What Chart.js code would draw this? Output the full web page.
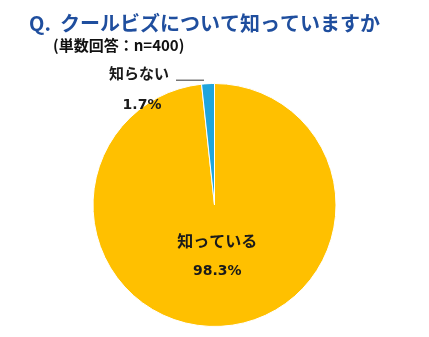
<!DOCTYPE html>
<html lang="ja">
<head>
<meta charset="UTF-8">
<title>クールビズ認知度</title>
<script src="https://cdn.jsdelivr.net/npm/chart.js"></script>
<style>
    body {
        margin: 0;
        background: #ffffff;
    }
    #wrap {
        width: 429px;
        height: 337px;
    }
</style>
</head>
<body>
<div id="wrap">
<canvas id="pieChart" width="429" height="337"></canvas>
</div>
<script>
    const answerLabels = ['知っている', '知らない'];
    const answerShares = [98.3, 1.7];
    const sliceColors = ['#ffc000', '#1fa5dd'];

    const titleText = 'Q.  クールビズについて知っていますか';
    const subTitleText = '(単数回答：n=400)';

    const jpFont = '"Noto Sans CJK JP", "Noto Sans", sans-serif';
    const numFont = '"DejaVu Sans", sans-serif';

    // 見出しとスライスのラベルを描く
    const labelPlugin = {
        id: 'pieLabels',
        afterDraw(chart) {
            const ctx = chart.ctx;
            ctx.save();

            ctx.textBaseline = 'alphabetic';
            ctx.textAlign = 'left';
            ctx.fillStyle = '#1f4e9e';
            ctx.font = 'bold 20px ' + jpFont;
            ctx.fillText(titleText, 29, 31);

            ctx.fillStyle = '#111111';
            ctx.font = 'bold 15px ' + jpFont;
            ctx.fillText(subTitleText, 53, 51);

            const arcs = chart.getDatasetMeta(0).data;
            ctx.textBaseline = 'middle';
            ctx.textAlign = 'center';
            ctx.fillStyle = '#1a1a1a';

            // 大きいスライス：内側に名前と値
            const big = arcs[0];
            const midA = (big.startAngle + big.endAngle) / 2;
            const r0 = big.outerRadius * 0.42;
            const bx = big.x + Math.cos(midA) * r0;
            const by = big.y + Math.sin(midA) * r0;
            ctx.font = 'bold 16px ' + jpFont;
            ctx.fillText(answerLabels[0], bx, by - 15);
            ctx.font = 'bold 14px ' + numFont;
            ctx.fillText(answerShares[0].toFixed(1) + '%', bx, by + 15);

            // 小さいスライス：外側に引き出し線
            const small = arcs[1];
            const midB = (small.startAngle + small.endAngle) / 2;
            const ox = small.x + Math.cos(midB) * small.outerRadius;
            const oy = small.y + Math.sin(midB) * small.outerRadius;
            ctx.strokeStyle = '#333333';
            ctx.lineWidth = 1;
            ctx.beginPath();
            ctx.moveTo(ox - 4, oy - 3.5);
            ctx.lineTo(ox - 32, oy - 3.5);
            ctx.stroke();
            ctx.textAlign = 'right';
            ctx.font = 'bold 15px ' + jpFont;
            ctx.fillText(answerLabels[1], ox - 39, oy - 10);
            ctx.textAlign = 'center';
            ctx.font = 'bold 14px ' + numFont;
            ctx.fillText(answerShares[1].toFixed(1) + '%', ox - 66, oy + 22);

            ctx.restore();
        }
    };

    const ctx = document.getElementById('pieChart').getContext('2d');
    const pieChart = new Chart(ctx, {
        type: 'pie',
        data: {
            labels: answerLabels,
            datasets: [{
                data: answerShares,
                backgroundColor: sliceColors,
                borderColor: '#ffffff',
                borderWidth: 1
            }]
        },
        options: {
            responsive: false,
            animation: false,
            layout: {
                padding: { top: 83, bottom: 10, left: 0, right: 0 }
            },
            plugins: {
                legend: { display: false },
                tooltip: { enabled: false }
            }
        },
        plugins: [labelPlugin]
    });
</script>
</body>
</html>
